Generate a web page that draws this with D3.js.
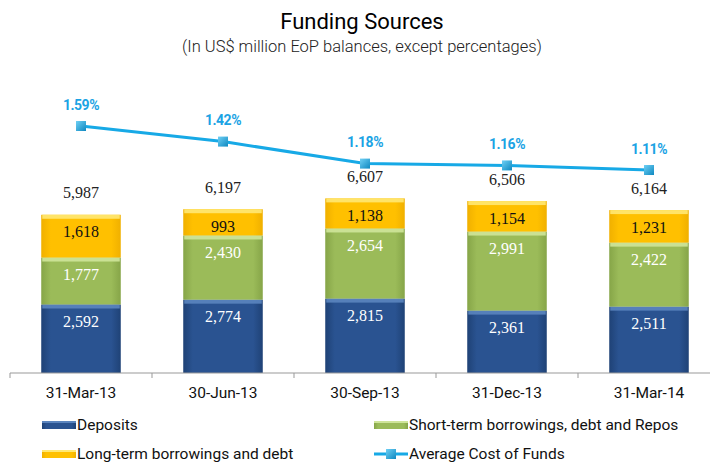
<!DOCTYPE html>
<html><head><meta charset="utf-8">
<script src="https://cdn.jsdelivr.net/npm/d3@7"></script>
<style>
html,body{margin:0;padding:0;background:#fff;}
svg{display:block;}
.cond{font-family:Roboto,"DejaVu Sans Condensed",sans-serif;}
.serif{font-family:"Liberation Serif","DejaVu Serif",serif;}
</style>
</head><body>
<svg id="chart" width="710" height="463"></svg>
<script>
const categories = ["31-Mar-13","30-Jun-13","30-Sep-13","31-Dec-13","31-Mar-14"];
const deposits = [2592, 2774, 2815, 2361, 2511];
const shortTerm = [1777, 2430, 2654, 2991, 2422];
const longTerm = [1618, 993, 1138, 1154, 1231];
const totals = [5987, 6197, 6607, 6506, 6164];
const costOfFunds = [1.59, 1.42, 1.18, 1.16, 1.11];
const costLabels = ["1.59%","1.42%","1.18%","1.16%","1.11%"];
const seriesNames = ["Deposits","Short-term borrowings, debt and Repos","Long-term borrowings and debt","Average Cost of Funds"];

const svg = d3.select("#chart");
const defs = svg.append("defs");

const colors = {
  dep: {main:"#2a5391", top:"#5b85bf", dark:"#1f4276"},
  st: {main:"#9bbb59", top:"#cfe59a", dark:"#86a548"},
  lt: {main:"#ffc000", top:"#ffe873", dark:"#f0b000"}
};
function grad(id, c){
  const g = defs.append("linearGradient").attr("id", id).attr("x1",0).attr("x2",1).attr("y1",0).attr("y2",0);
  g.append("stop").attr("offset","0%").attr("stop-color", c.dark);
  g.append("stop").attr("offset","12%").attr("stop-color", c.main);
  g.append("stop").attr("offset","88%").attr("stop-color", c.main);
  g.append("stop").attr("offset","100%").attr("stop-color", c.dark);
}
grad("gdep", colors.dep); grad("gst", colors.st); grad("glt", colors.lt);
const mg = defs.append("linearGradient").attr("id","gmark").attr("x1",0).attr("x2",1).attr("y1",0).attr("y2",1);
mg.append("stop").attr("offset","0%").attr("stop-color","#6fd0f5");
mg.append("stop").attr("offset","100%").attr("stop-color","#0e88c0");

const x = d3.scaleBand().domain(categories).range([10, 720]).paddingInner(0.44).paddingOuter(0.22);
const xTicks = d3.scaleBand().domain(categories).range([10, 720]);
const y = d3.scaleLinear().domain([0, 7000]).range([373, 188]);
const y2 = d3.scaleLinear().domain([0, 2]).range([271.8, 88.4]);

// title
svg.append("text").attr("class","cond").attr("x",362).attr("y",29).attr("text-anchor","middle")
  .attr("font-size",22).attr("font-weight",400).attr("fill","#000").text("Funding Sources");
svg.append("text").attr("class","cond").attr("x",362).attr("y",52).attr("text-anchor","middle")
  .attr("font-size",16.5).attr("font-weight",300).attr("fill","#222").text("(In US$ million EoP balances, except percentages)");

// bars
const stackData = categories.map((c,i)=>({cat:c, dep:deposits[i], st:shortTerm[i], lt:longTerm[i], total:totals[i]}));
const stack = d3.stack().keys(["dep","st","lt"])(stackData);
const fills = {dep:"url(#gdep)", st:"url(#gst)", lt:"url(#glt)"};
const labelColor = {dep:"#ffffff", st:"#ffffff", lt:"#111111"};
stack.forEach(layer=>{
  const key = layer.key;
  const g = svg.append("g");
  layer.forEach(d=>{
    const x0 = x(d.data.cat), w = x.bandwidth();
    const yt = y(d[1]), yb = y(d[0]);
    g.append("rect").attr("x",x0).attr("y",yt).attr("width",w).attr("height",yb-yt).attr("fill",fills[key]);
    g.append("rect").attr("x",x0+1).attr("y",yt).attr("width",w-2).attr("height",4).attr("fill",colors[key].top).attr("opacity",0.9);
    g.append("text").attr("class","serif").attr("x",x0+w/2).attr("y",yt+17).attr("dy","0.35em")
      .attr("text-anchor","middle").attr("font-size",16).attr("fill",labelColor[key])
      .text(d3.format(",")(d.data[key]));
  });
});

// totals
svg.append("g").selectAll("text").data(stackData).join("text").attr("class","serif")
  .attr("x",d=>x(d.cat)+x.bandwidth()/2).attr("y",d=>y(d.total)-22).attr("dy","0.35em")
  .attr("text-anchor","middle").attr("font-size",16).attr("fill","#222")
  .text(d=>d3.format(",")(d.total));

// axis
const axisG = svg.append("g").attr("transform","translate(0,373)");
axisG.append("line").attr("x1",10).attr("x2",710).attr("y1",0).attr("y2",0).attr("stroke","#999").attr("stroke-width",1.2);
axisG.selectAll("line.tick").data(categories).join("line").attr("class","tick")
  .attr("x1",d=>xTicks(d)).attr("x2",d=>xTicks(d)).attr("y1",0).attr("y2",5).attr("stroke","#999");
axisG.selectAll("text").data(categories).join("text").attr("class","cond")
  .attr("x",d=>x(d)+x.bandwidth()/2).attr("y",20).attr("dy","0.35em").attr("text-anchor","middle")
  .attr("font-size",15.5).attr("fill","#111").text(d=>d);

// line
const cx = i => x(categories[i]) + x.bandwidth()/2;
const line = d3.line().x((d,i)=>cx(i)).y(d=>y2(d));
svg.append("path").datum(costOfFunds).attr("d",line).attr("fill","none").attr("stroke","#17a9e6").attr("stroke-width",3);
svg.append("g").selectAll("rect").data(costOfFunds).join("rect")
  .attr("x",(d,i)=>cx(i)-5).attr("y",d=>y2(d)-5).attr("width",10).attr("height",10).attr("fill","url(#gmark)");
svg.append("g").selectAll("text").data(costOfFunds).join("text").attr("class","cond")
  .attr("x",(d,i)=>cx(i)).attr("y",d=>y2(d)-21).attr("dy","0.35em").attr("text-anchor","middle")
  .attr("font-size",14).attr("font-weight","bold").attr("letter-spacing",-0.5).attr("fill","#1ba3e4").text((d,i)=>costLabels[i]);

// legend
const leg = svg.append("g");
const items = [
  {name:seriesNames[0], x:42, y:425, type:"dep"},
  {name:seriesNames[1], x:374, y:425, type:"st"},
  {name:seriesNames[2], x:42, y:454, type:"lt"},
  {name:seriesNames[3], x:374, y:454, type:"line"}
];
items.forEach(it=>{
  if(it.type==="line"){
    leg.append("line").attr("x1",it.x).attr("x2",it.x+34).attr("y1",it.y).attr("y2",it.y).attr("stroke","#17a9e6").attr("stroke-width",3);
    leg.append("rect").attr("x",it.x+12).attr("y",it.y-5).attr("width",10).attr("height",10).attr("fill","url(#gmark)");
  } else {
    leg.append("rect").attr("x",it.x).attr("y",it.y-4).attr("width",34).attr("height",8).attr("fill",fills[it.type]);
    leg.append("rect").attr("x",it.x).attr("y",it.y-4).attr("width",34).attr("height",2).attr("fill",colors[it.type].top);
  }
  leg.append("text").attr("class","cond").attr("x",it.x+35).attr("y",it.y).attr("dy","0.35em")
    .attr("font-size",15.5).attr("fill","#111").text(it.name);
});
</script>
</body></html>
